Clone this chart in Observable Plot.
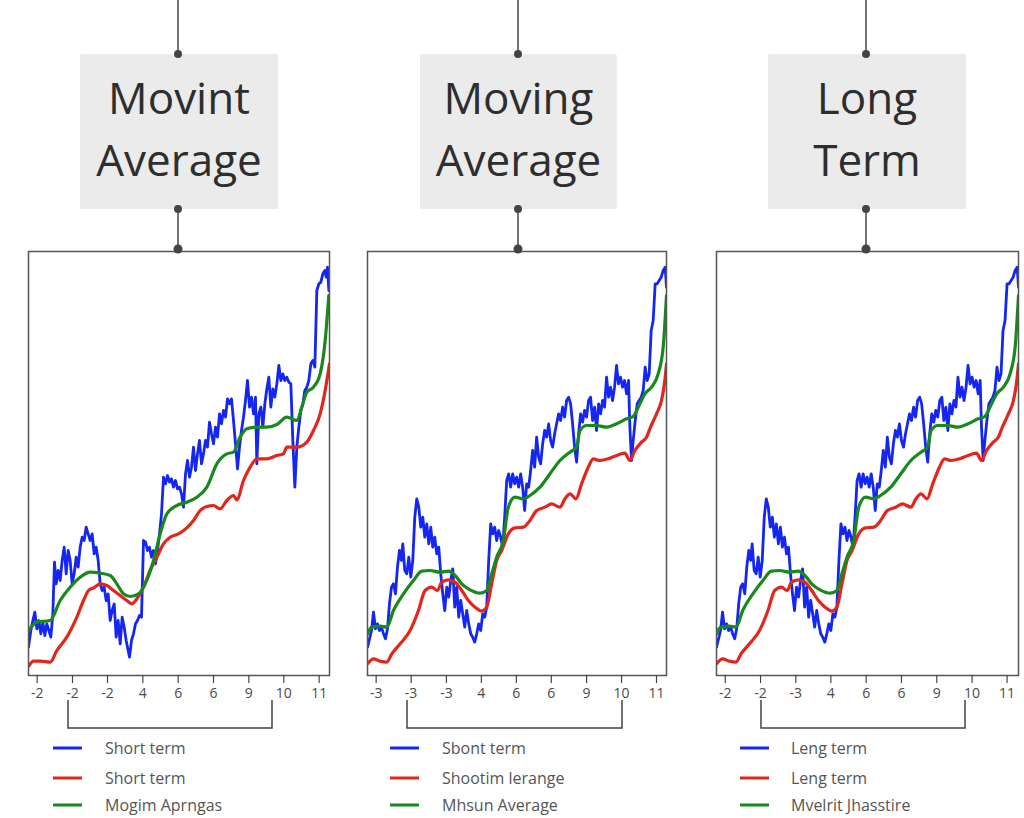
<!DOCTYPE html>
<html><head><meta charset="utf-8">
<script src="https://cdn.jsdelivr.net/npm/d3@7"></script>
<script src="https://cdn.jsdelivr.net/npm/@observablehq/plot@0.6"></script>
<style>
body{margin:0;background:#fff;}
#wrap{position:relative;width:1024px;height:818px;overflow:hidden;font-family:"Open Sans",sans-serif;background:#fff;}
.plot{position:absolute;}
#overlay{position:absolute;left:0;top:0;}
</style>
</head><body><div id="wrap"></div>
<script>
// ---------- DATA ----------
const titles = [["Movint","Average"],["Moving","Average"],["Long","Term"]];
const legendLabels = [
  ["Short term","Short term","Mogim Aprngas"],
  ["Sbont term","Shootim lerange","Mhsun Average"],
  ["Leng term","Leng term","Mvelrit Jhasstire"]
];
const ticks1 = [51,157,262,368,474,580,686,791,897];
const ticks2 = [48,153,259,364,469,574,680,785,890];
const ticks3 = [48,153,258,362,467,572,677,782,886];
const tickLabels1 = ["-2","-2","-2","4","6","6","9","10","11"];
const tickLabels2 = ["-3","-3","-3","4","6","6","9","10","11"];
const tickLabels3 = ["-2","-2","-3","4","6","6","9","10","11"];

const blue1 = [[25,8.5],[32,13.5],[38,16.5],[44,19],[50,14],[56,16.5],[62,12.5],[68,16],[74,12],[80,15.5],[86,13.5],[92,11.5],[98,18.5],[103,34],[108,27.5],[114,31.5],[120,28.5],[126,34.5],[132,38.5],[138,30.5],[144,37.5],[150,34.5],[156,27.5],[162,30.5],[168,35.5],[174,32.5],[180,38.5],[186,41.5],[192,40.5],[198,44.5],[204,42.5],[210,40.5],[216,42.5],[222,36.5],[228,38.5],[234,34.5],[240,27.5],[246,25.5],[252,26.5],[258,22.5],[264,24.5],[270,16.5],[276,19.5],[282,21.5],[288,11.5],[294,16.5],[300,9.5],[306,17.5],[312,14.5],[318,10.5],[324,7.5],[328,5.5],[334,10.5],[340,12.5],[346,15.5],[352,16.5],[358,18],[364,17.5],[370,40.5],[376,40],[382,37.5],[388,38.5],[394,35.5],[400,37.5],[406,33.5],[412,37.5],[418,42.5],[424,48.5],[430,59.5],[436,57.5],[442,60],[448,58],[454,59],[460,56.5],[466,58.5],[472,56],[478,56.5],[484,54.5],[490,50.5],[496,60.5],[502,64.5],[508,59.5],[514,62.5],[520,68.5],[526,61.5],[532,66.5],[538,70.5],[544,63.5],[550,66.5],[556,70.5],[562,68.5],[568,76],[574,72.5],[580,69.5],[586,74.5],[592,71.5],[598,78.5],[604,75.5],[610,79.5],[616,77.5],[622,83],[628,81.5],[634,83],[640,76.5],[646,69.5],[652,62],[658,68.5],[664,73.5],[670,77.5],[676,82.5],[682,88.5],[688,80.5],[694,83.5],[700,78.5],[706,83.5],[710,63.5],[716,78.5],[722,80.5],[728,74.5],[734,81.5],[740,86],[746,89.5],[752,80.5],[758,86],[764,83.5],[770,87.5],[776,93],[782,88.5],[788,90.5],[794,88.5],[800,89.5],[806,88],[812,87.5],[818,70.5],[824,56.5],[830,68.5],[836,74.5],[842,79.5],[848,81.5],[854,85.5],[860,86.5],[866,88.5],[872,93.5],[878,94.5],[884,92.5],[890,115.5],[896,117.5],[902,118],[908,120.5],[914,121.5],[918,119.5],[922,122.5],[926,115.5]];
const green1 = [[25,13.5],[50,16],[90,16.5],[120,22.5],[150,26.5],[180,29.5],[210,31],[240,30.7],[270,30],[290,27.5],[310,24.5],[330,23.7],[355,24.5],[375,27.5],[400,34.5],[420,42.5],[440,48.5],[470,51],[500,52],[530,53.5],[560,56.5],[590,63.5],[620,66.5],[640,67],[660,71.5],[680,74],[710,74.5],[740,74.5],[770,75.3],[800,77.5],[830,76.5],[845,80.5],[860,85],[880,86.5],[900,90.5],[915,100.5],[926,114]];
const red1 = [[25,2.7],[40,4.3],[60,4.3],[90,4],[110,7.5],[140,11.5],[170,17.5],[190,22.5],[205,25.5],[220,26.3],[240,27.5],[260,27],[280,25.5],[300,24],[320,22.5],[335,21.5],[350,23],[370,26.5],[390,31.5],[410,35.5],[430,39.5],[450,41.5],[475,42.5],[500,44.3],[520,46.5],[540,49.5],[560,50.7],[580,51],[600,50],[620,52.5],[640,54],[650,52.7],[670,58.5],[690,62.5],[710,65],[740,65],[770,66],[790,66.5],[800,68.5],[830,68.5],[860,70],[880,73.5],[900,78.5],[915,85.5],[928,93.5]];

const blue2 = [[22,8.5],[28,11],[34,13.5],[40,19],[46,14],[52,15.5],[58,13.5],[64,14.5],[70,12.5],[76,11],[82,14],[88,21.5],[94,26.5],[100,27.5],[106,24.5],[112,32.5],[118,37.5],[124,34.5],[128,39.5],[134,31.5],[140,30.5],[146,35.5],[152,29.5],[158,34.5],[164,47.5],[170,53],[176,50.5],[182,44.5],[188,47.5],[194,41.5],[200,45.5],[206,39.5],[212,44.5],[218,38.5],[224,41.5],[230,36.5],[236,38.5],[242,30.5],[248,24.5],[254,19.5],[260,26.5],[266,23.5],[272,28.5],[278,32],[284,20.5],[290,26.5],[296,17.5],[302,22.5],[308,18.5],[314,14.5],[320,19.5],[326,15.5],[332,12.5],[338,11.5],[344,10],[350,12.5],[356,15.5],[362,13.5],[368,18.5],[374,17.5],[380,20.5],[386,34.5],[392,45.5],[398,42.5],[404,44.5],[410,40.5],[416,43.5],[422,41.5],[428,38.5],[434,47.5],[440,58.5],[446,60.5],[452,56.5],[458,60.5],[464,57.5],[470,59.5],[476,56.5],[482,60.5],[488,56.5],[494,49.5],[500,57.5],[506,56.5],[512,61.5],[518,67.5],[524,62.5],[530,71.5],[536,65.5],[542,63.5],[548,69.5],[554,73.5],[560,71.5],[566,75.5],[572,70.5],[578,68.5],[584,72.5],[590,75.5],[596,78.5],[602,76.5],[608,80.5],[614,77.5],[620,82.5],[626,83.5],[632,81.5],[638,75.5],[644,68.5],[650,64],[656,72.5],[662,78.5],[668,76],[674,79.5],[680,77.5],[686,82.5],[692,83.5],[698,76.5],[704,80.5],[710,73.5],[716,81.5],[722,78.5],[728,82.5],[734,80.5],[740,89.5],[746,83.5],[752,86.5],[758,82.5],[764,86.5],[770,93],[776,87.5],[782,89.5],[788,86.5],[794,88.5],[800,84.5],[806,88.5],[810,74.5],[815,64.5],[820,70.5],[826,76.5],[832,81.5],[838,82.5],[844,83.5],[850,85.5],[856,92.5],[862,88.5],[868,90.5],[874,103.5],[880,106.5],[886,117.5],[892,117.5],[898,118.5],[904,119.5],[910,121.5],[916,122.5],[920,116.5]];
const green2 = [[22,12.5],[35,14.5],[60,14.8],[80,14.5],[100,19.5],[130,24.5],[160,28.5],[185,31.3],[210,31.5],[240,31],[265,31.3],[285,30],[305,27.5],[330,25.7],[360,24.7],[380,25.5],[395,30.5],[410,35.5],[430,40.5],[445,50.5],[465,53.5],[490,53],[510,54],[540,56.5],[570,60.5],[600,64.5],[630,67],[650,68.5],[660,73.5],[680,75],[710,75],[740,74.5],[770,75.5],[800,77],[820,77.7],[840,81.5],[855,84.5],[875,86.5],[895,90.5],[910,98.5],[920,114]];
const red2 = [[22,3.5],[40,5],[60,4.3],[80,4],[95,6.5],[120,9.5],[150,13.5],[175,19.5],[195,25.5],[215,26.5],[232,25.5],[245,28],[265,28.7],[285,28],[305,25.5],[325,22.5],[345,20.5],[365,19.3],[380,20.5],[395,27.5],[410,34.5],[425,37.5],[445,42.5],[465,44.3],[490,44.5],[510,46.5],[530,49.5],[555,50.5],[575,51.5],[600,50.5],[615,53],[630,54.5],[648,53],[665,57.5],[685,62.5],[700,65],[720,64.5],[745,65],[770,66],[795,66.7],[810,64.5],[825,67.5],[845,70],[860,71.5],[872,74.5],[890,78.5],[905,82.5],[915,88.5],[920,93.5]];

const panelsData = [
  {blue: blue1, red: red1, green: green1, xDomain: [25, 928], ticks: ticks1, labels: tickLabels1},
  {blue: blue2, red: red2, green: green2, xDomain: [22, 920], ticks: ticks2, labels: tickLabels2},
  {blue: blue2, red: red2, green: green2, xDomain: [22, 920], ticks: ticks3, labels: tickLabels3}
];
const yDomain = [0, 127.2];

// ---------- LAYOUT ----------
const colors = {blue: "#1426f0", red: "#e2261b", green: "#18891c", ink: "#444"};
const layout = [
  {frameL: 28, frameR: 329, box: [80, 278], cx: 178, bracket: [68, 272], legLine: 53, legText: 105},
  {frameL: 367, frameR: 666, box: [420, 617], cx: 518, bracket: [407, 622], legLine: 390, legText: 442},
  {frameL: 716, frameR: 1018, box: [768, 966], cx: 866, bracket: [761, 965], legLine: 740, legText: 791}
];
const frameTop = 251, frameBottom = 675;

const wrap = document.getElementById("wrap");

panelsData.forEach((p, i) => {
  const L = layout[i];
  const m = 2;
  const chart = Plot.plot({
    width: L.frameR - L.frameL + 2 * m,
    height: frameBottom - frameTop + m + 40,
    marginLeft: m, marginRight: m, marginTop: m, marginBottom: 40,
    x: {domain: p.xDomain},
    y: {domain: yDomain, axis: null},
    style: {background: "transparent", overflow: "visible", fontFamily: "'Open Sans', sans-serif", fontSize: "14px", color: "#4a4a4a"},
    marks: [
      Plot.line(p.blue, {x: d => d[0], y: d => d[1], stroke: colors.blue, strokeWidth: 2.8, strokeLinejoin: "round", clip: true}),
      Plot.line(p.red, {x: d => d[0], y: d => d[1], stroke: colors.red, strokeWidth: 3.2, strokeLinejoin: "round", clip: true, curve: "monotone-x"}),
      Plot.line(p.green, {x: d => d[0], y: d => d[1], stroke: colors.green, strokeWidth: 3.2, strokeLinejoin: "round", clip: true, curve: "monotone-x"}),
      Plot.frame({stroke: "#555", strokeWidth: 1.5}),
      Plot.axisX(p.ticks, {tickSize: 8, tickPadding: 5, tickFormat: d => p.labels[p.ticks.indexOf(d)], label: null, stroke: "#444", strokeWidth: 1.2})
    ]
  });
  chart.classList.add("plot");
  chart.style.left = (L.frameL - m) + "px";
  chart.style.top = (frameTop - m) + "px";
  wrap.appendChild(chart);
});

// ---------- OVERLAY: title boxes, connectors, brackets, legends ----------
const svg = d3.select(wrap).append("svg").attr("id", "overlay").attr("width", 1024).attr("height", 818)
  .style("font-family", "'Open Sans', sans-serif");

layout.forEach((L, i) => {
  const g = svg.append("g");
  g.append("rect").attr("x", L.box[0]).attr("y", 54).attr("width", L.box[1] - L.box[0]).attr("height", 155)
    .attr("rx", 2).attr("fill", "#ebebeb");
  const tx = (L.box[0] + L.box[1]) / 2;
  titles[i].forEach((t, k) => {
    g.append("text").attr("x", tx).attr("y", k === 0 ? 114 : 176).attr("text-anchor", "middle")
      .attr("font-size", 44).attr("fill", "#2e2e2e").text(t);
  });
  // connectors
  g.append("line").attr("x1", L.cx).attr("x2", L.cx).attr("y1", 0).attr("y2", 54).attr("stroke", "#444").attr("stroke-width", 1.5);
  g.append("line").attr("x1", L.cx).attr("x2", L.cx).attr("y1", 209).attr("y2", 250).attr("stroke", "#444").attr("stroke-width", 1.5);
  [54, 209].forEach(y => g.append("circle").attr("cx", L.cx).attr("cy", y).attr("r", 4).attr("fill", "#444"));
  g.append("circle").attr("cx", L.cx).attr("cy", 249).attr("r", 4.5).attr("fill", "#444");
  // bracket
  g.append("path").attr("d", `M${L.bracket[0]},700V728H${L.bracket[1]}V700`).attr("fill", "none")
    .attr("stroke", "#444").attr("stroke-width", 1.5);
  // legend
  const cols = [colors.blue, colors.red, colors.green];
  const rows = [748, 778, 805];
  legendLabels[i].forEach((lab, k) => {
    const y = rows[k];
    g.append("line").attr("x1", L.legLine).attr("x2", L.legLine + 29).attr("y1", y).attr("y2", y)
      .attr("stroke", cols[k]).attr("stroke-width", 3);
    g.append("text").attr("x", L.legText).attr("y", y + 5.5).attr("font-size", 16).attr("fill", "#555").text(lab);
  });
});
</script></body></html>
